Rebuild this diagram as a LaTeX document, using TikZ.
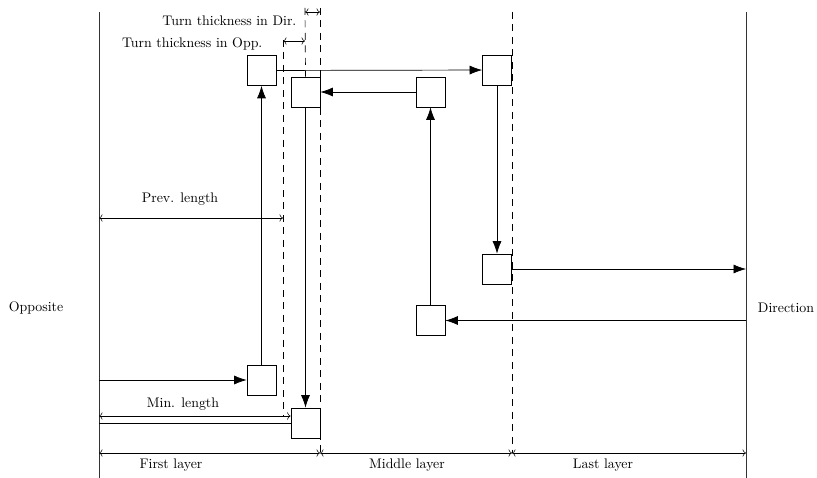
\documentclass[tikz,border=0pt]{standalone}
\usepackage{tikz}
\usetikzlibrary{arrows.meta,positioning,calc}

\begin{document}
\begin{tikzpicture}[
    x=0.72pt, y=-0.72pt,
    box/.style={
        rectangle, draw, fill=white, inner sep=0pt,
        minimum width=20.9pt, minimum height=21.6pt, line width=0.5pt
    },
    arrow/.style={-{Latex[length=9pt,width=6.5pt]}, line width=0.5pt},
    dim/.style={<->, line width=0.4pt},
    layer/.style={line width=0.6pt, color=black!80},
    guide/.style={dashed, dash pattern=on 5pt off 4pt, line width=0.5pt},
    label/.style={font=\normalsize, inner sep=1pt},
]
\useasboundingbox (0,0) rectangle (817,478);

% Granice warstw
\coordinate (opptop) at (99,12);
\coordinate (oppbot) at (99,478);
\coordinate (dirtop) at (746,12);
\coordinate (dirbot) at (746,478);
\draw[layer] (opptop) -- (oppbot);
\draw[layer] (dirtop) -- (dirbot);

\node[label] (opp) at (36,308) {Opposite};
\node[label] (dir) at (786,308) {Direction};

% Linie pomocnicze
\coordinate (g1top) at (283,40);
\coordinate (g1bot) at (283,416);
\coordinate (g2top) at (305,8);
\coordinate (g3top) at (320,8);
\coordinate (g3bot) at (320,453);
\coordinate (g4top) at (512,12);
\coordinate (g4bot) at (512,453);

% Bloki
\node[box] (b1) at (261.5,70.5) {};
\node[box] (b2) at (305.5,92) {};
\node[box] (b3) at (430.5,92) {};
\node[box] (b4) at (497,70) {};
\node[box] (b5) at (497,269) {};
\node[box] (b6) at (430.5,320.5) {};
\node[box] (b7) at (261.5,380) {};
\node[box] (b8) at (305.5,423) {};

\draw[guide] (g1top) -- (g1bot);
\draw[guide] (g2top) -- (b2.north);
\draw[guide] (g3top) -- (g3bot);
\draw[guide] (g4top) -- (g4bot);

% Połączenia
\coordinate (in) at (99,380);
\draw[arrow] (in) -- (b7);
\draw[arrow] (b7) -- (b1);
\draw[arrow] (b1) -- (b4);
\draw[arrow] (b4) -- (b5);
\draw[arrow] (b5) -- (b5 -| dirtop);
\draw[arrow] (b6 -| dirtop) -- (b6);
\draw[arrow] (b6) -- (b3);
\draw[arrow] (b3) -- (b2);
\draw[arrow] (b2) -- (b8);
\draw (b8) -- (b8 -| opptop);

% Wymiary
\coordinate (prevl) at (99,218);
\coordinate (minl) at (99,416);
\draw[dim] (prevl) -- (prevl -| g1top);
\node[label] (prevtxt) at (180,199) {Prev. length};
\draw[dim] (minl) -- (minl -| b8.west);
\node[label] (mintxt) at (183,404) {Min. length};

\coordinate (oppth) at (283,41);
\coordinate (dirth) at (305,12);
\draw[dim] (oppth) -- (oppth -| g2top);
\draw[dim] (dirth) -- (dirth -| g3top);
\node[label, anchor=east] (oppthtxt) at (264,44) {Turn thickness in Opp.};
\node[label, anchor=east] (dirthtxt) at (298,21) {Turn thickness in Dir.};

% Warstwy
\coordinate (l0) at (99,453);
\coordinate (l1) at (320,453);
\coordinate (l2) at (512,453);
\coordinate (l3) at (746,453);
\draw[dim] (l0) -- (l1);
\draw[dim] (l1) -- (l2);
\draw[dim] (l2) -- (l3);
\node[label] (first) at (171,465) {First layer};
\node[label] (middle) at (407,465) {Middle layer};
\node[label] (last) at (603,465) {Last layer};

\end{tikzpicture}
\end{document}
